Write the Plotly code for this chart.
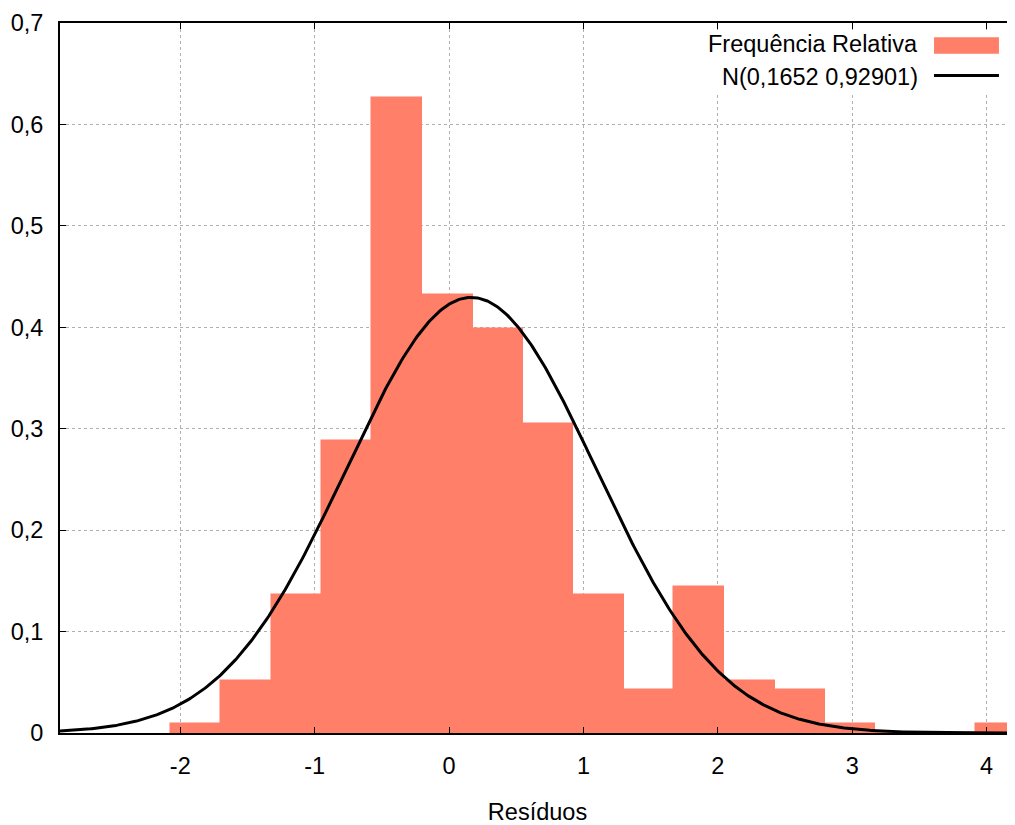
import numpy as np
import plotly.graph_objects as go

# ---- data ----
bin_centers = [-1.882, -1.508, -1.133, -0.759, -0.385, -0.010, 0.364, 0.738,
               1.113, 1.487, 1.861, 2.236, 2.610, 2.984, 3.358, 3.733, 4.107]
bin_width = 0.3743
rel_freq = [0.0085, 0.0508, 0.1356, 0.2877, 0.6265, 0.4315, 0.3980, 0.3047,
            0.1356, 0.0424, 0.1440, 0.0508, 0.0424, 0.0085, 0.0, 0.0, 0.0085]

normal_mu = 0.1652
normal_sigma = 0.92901

x_range = [-2.895, 4.211]
y_range = [0, 0.7]
x_tick_vals = [-2, -1, 0, 1, 2, 3, 4]
x_tick_text = ["-2", "-1", "0", "1", "2", "3", "4"]
y_tick_vals = [0, 0.1, 0.2, 0.3, 0.4, 0.5, 0.6, 0.7]
y_tick_text = ["0", "0,1", "0,2", "0,3", "0,4", "0,5", "0,6", "0,7"]

legend_hist = "Frequência Relativa"
legend_curve = "N(0,1652 0,92901)"
x_title = "Resíduos"

BAR_COLOR = "#ff7f69"
FONT = "Arial, Liberation Sans, sans-serif"
FS = 23.5

# normal density curve with the parameters given in the legend
xc = np.linspace(x_range[0], x_range[1], 600)
yc = np.exp(-0.5 * ((xc - normal_mu) / normal_sigma) ** 2) / (normal_sigma * np.sqrt(2 * np.pi))

fig = go.Figure()
fig.add_trace(go.Bar(x=bin_centers, y=rel_freq, width=bin_width,
                     marker=dict(color=BAR_COLOR, line=dict(width=1.5, color=BAR_COLOR)),
                     name=legend_hist, showlegend=False))
fig.add_trace(go.Scatter(x=xc, y=yc, mode="lines",
                         line=dict(color="black", width=3),
                         name=legend_curve, showlegend=False))

# legend drawn in gnuplot style (text right, sample on the right)
fig.add_shape(type="rect", xref="paper", yref="paper",
              x0=0.675, x1=0.997, y0=0.900, y1=0.990,
              fillcolor="white", line=dict(width=0), layer="above")
fig.add_annotation(xref="paper", yref="paper", x=0.9005, y=0.9698,
                   text=legend_hist, showarrow=False, xanchor="right", yanchor="middle",
                   font=dict(size=FS, color="black", family=FONT))
fig.add_annotation(xref="paper", yref="paper", x=0.9005, y=0.9233,
                   text=legend_curve, showarrow=False, xanchor="right", yanchor="middle",
                   font=dict(size=FS, color="black", family=FONT))
fig.add_shape(type="rect", xref="paper", yref="paper",
              x0=0.9152, x1=0.9832, y0=0.9567, y1=0.980,
              fillcolor=BAR_COLOR, line=dict(width=0), layer="above")
fig.add_shape(type="line", xref="paper", yref="paper",
              x0=0.9152, x1=0.9832, y0=0.9261, y1=0.9261,
              line=dict(color="black", width=3), layer="above")

# page body has an 8px margin, so the figure is sized to fit the window
fig.update_layout(
    width=1007, height=817,
    margin=dict(l=52, r=0, t=14.5, b=91.7),
    paper_bgcolor="white", plot_bgcolor="white",
    font=dict(family=FONT, size=FS, color="black"),
    bargap=0,
    showlegend=False,
)
fig.update_xaxes(
    range=x_range, tickvals=x_tick_vals, ticktext=x_tick_text,
    showgrid=True, gridcolor="#b0b0b0", gridwidth=1, griddash="dot",
    zeroline=False, showline=True, linecolor="black", linewidth=2,
    mirror="ticks", ticks="inside", ticklen=6, tickcolor="black", tickwidth=1,
    ticklabelstandoff=11, automargin=False,
    title=dict(text=x_title, font=dict(size=FS), standoff=25),
)
fig.update_yaxes(
    range=y_range, tickvals=y_tick_vals, ticktext=y_tick_text,
    showgrid=True, gridcolor="#b0b0b0", gridwidth=1, griddash="dot",
    zeroline=False, showline=True, linecolor="black", linewidth=2,
    mirror=False, ticks="inside", ticklen=6, tickcolor="black", tickwidth=1,
    ticklabelstandoff=10, automargin=False,
)

fig.write_html("out.html")
